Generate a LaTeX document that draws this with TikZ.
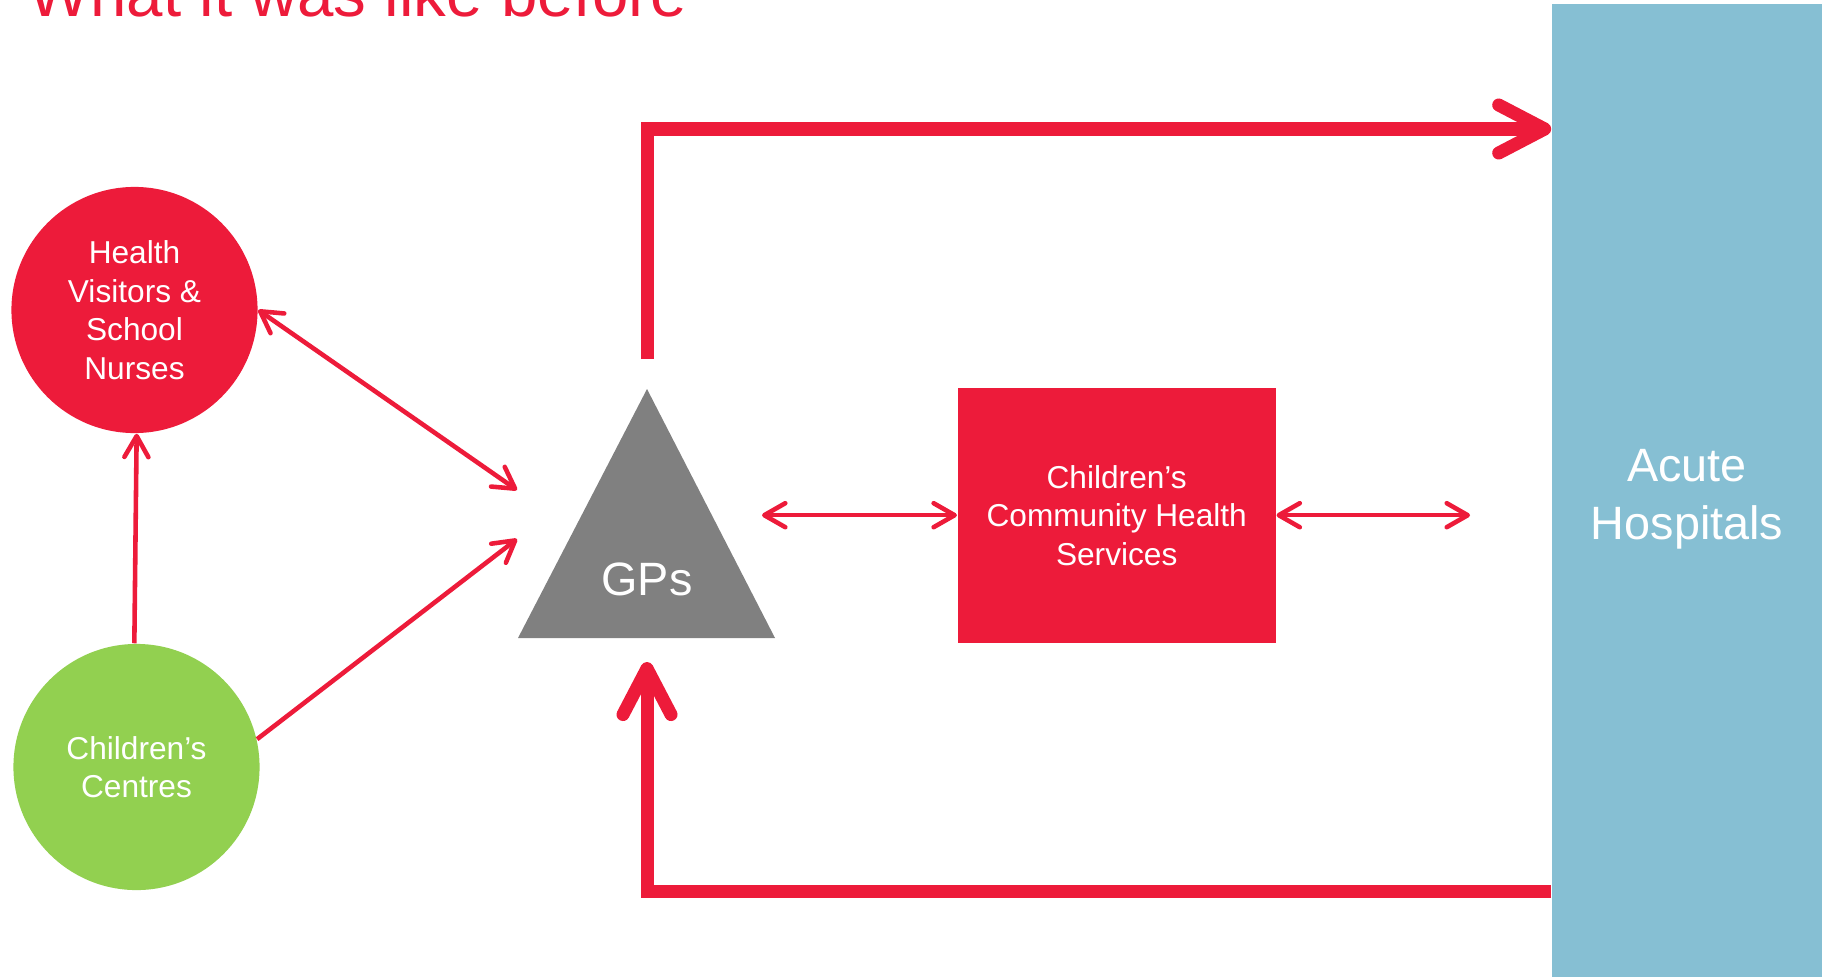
\documentclass[tikz,border=0pt]{standalone}
\usepackage{fontspec}
\setmainfont{Liberation Sans}
\usetikzlibrary{arrows.meta}

\definecolor{nhsred}{HTML}{ED1B3A}
\definecolor{ccgreen}{HTML}{92D050}
\definecolor{acuteblue}{HTML}{86BFD3}
\definecolor{gpgray}{HTML}{808080}

\tikzset{%
  blob/.style={circle, inner sep=0pt, minimum size=2.46cm, text=white,
    align=center, font=\fontsize{9pt}{10.95pt}\selectfont},
  thinlink/.style={nhsred, line width=1.3pt,
    >={Straight Barb[length=2.1mm, width=2.4mm, round]}},
  biglink/.style={nhsred, line width=3.7pt, line join=miter,
    >={Straight Barb[length=4.6mm, width=4.8mm, round]}}
}

\begin{document}
\begin{tikzpicture}[x=0.01cm, y=-0.01cm]
  \useasboundingbox (0,0) rectangle (1822,976);

  \node[anchor=base west, inner sep=0pt, text=nhsred,
    font=\fontsize{18.6pt}{22pt}\selectfont] (title) at (28,17) {What it was like before};

  \node[blob, fill=nhsred] (hv) at (134.5,310) {Health\\Visitors \&\\School\\Nurses};
  \node[blob, fill=ccgreen] (cc) at (136.5,767) {Children’s\\Centres};

  \fill[gpgray] (647,389) -- (775,638) -- (518,638) -- cycle;
  \node[text=white, font=\fontsize{13.3pt}{16pt}\selectfont] (gp) at (647,579) {GPs};

  \node[fill=nhsred, text=white, align=center, inner sep=0pt,
    minimum width=3.18cm, minimum height=2.55cm,
    font=\fontsize{9pt}{10.95pt}\selectfont] (cchs) at (1116.7,515.2)
    {Children’s\\Community Health\\Services};

  % runs past the bottom edge, so that its text sits a little low
  \node[fill=acuteblue, text=white, align=center, inner sep=0pt,
    minimum width=2.70cm, minimum height=9.90cm,
    font=\fontsize{13.3pt}{16.5pt}\selectfont] (acute) at (1687,499)
    {Acute\\Hospitals};

  \coordinate (gpnw) at (517,490);
  \coordinate (gpsw) at (517,539);
  \coordinate (gpe) at (762,515.2);
  \coordinate (gap) at (1470,515.2);
  \coordinate (topstart) at (647,359);
  \coordinate (topbend) at (647,129);
  \coordinate (botbend) at (647,891);
  \coordinate (gptip) at (647,662);

  \draw[thinlink, <->] (hv.east) -- (gpnw);
  \draw[thinlink, ->] (cc.13) -- (gpsw);
  \draw[thinlink, ->] (cc.91.5) -- (hv.-89);
  \draw[thinlink, <->] (gpe) -- (cchs.west);
  \draw[thinlink, <->] (cchs.east) -- (gap);

  \draw[biglink, ->] (topstart) -- (topbend) -- (topbend -| acute.west);
  \draw[biglink, ->] (botbend -| acute.west) -- (botbend) -- (gptip);
\end{tikzpicture}
\end{document}
